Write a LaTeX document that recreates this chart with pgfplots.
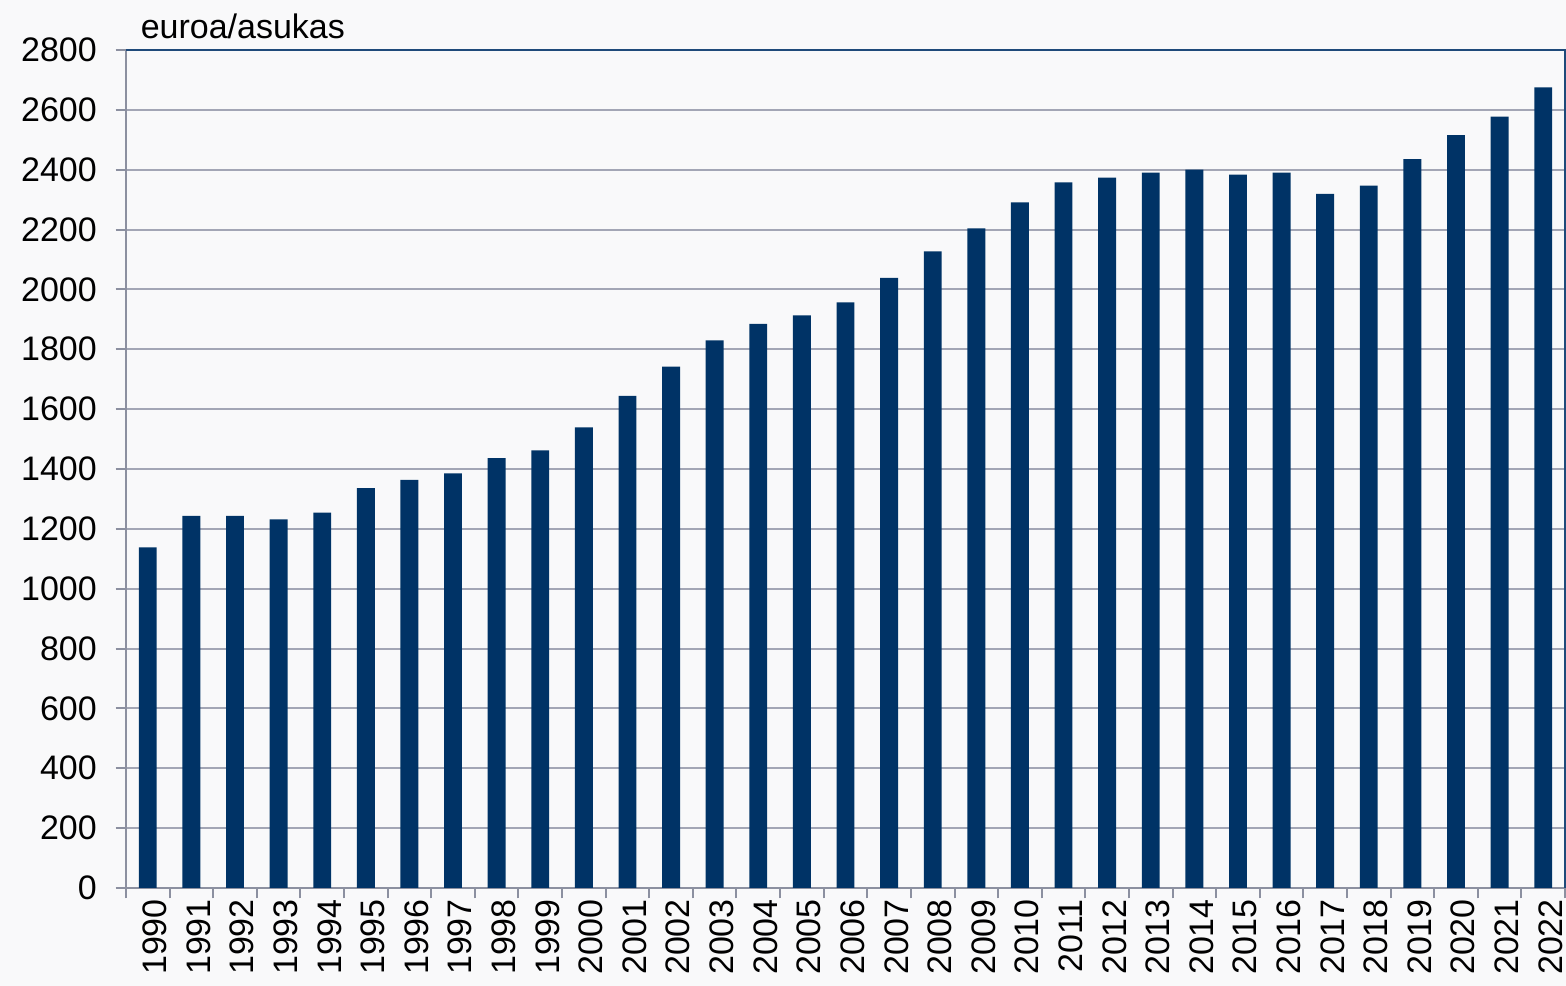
\documentclass[border=0pt]{standalone}
\usepackage{pgfplots}
\pgfplotsset{compat=1.18}
\usepackage{fontspec}
\setmainfont{Liberation Sans}
\definecolor{bg}{HTML}{F9F9FA}
\definecolor{barc}{HTML}{003366}
\definecolor{gridc}{HTML}{A3A6B5}
\definecolor{axc}{HTML}{8C90A0}
\definecolor{frame}{HTML}{1F4A7A}
\begin{document}
\begin{tikzpicture}
\fill[bg] (-31.5pt,-24.5pt) rectangle (360pt,222pt);
\useasboundingbox (-31.5pt,-24.5pt) rectangle (360pt,222pt);
\begin{axis}[
  at={(0,0)}, anchor=south west,
  width=359.75pt, height=209.5pt, scale only axis,
  clip=false,
  xmin=-0.5, xmax=32.5, ymin=0, ymax=2800,
  ytick distance=200,
  xtick={0,...,32},
  xticklabels={1990,1991,1992,1993,1994,1995,1996,1997,1998,1999,2000,2001,2002,2003,2004,2005,2006,2007,2008,2009,2010,2011,2012,2013,2014,2015,2016,2017,2018,2019,2020,2021,2022},
  minor xtick={-0.5,0.5,...,32.5},
  axis x line*=bottom, axis y line*=left,
  axis line style={draw=axc, line width=0.5pt},
  tick align=outside,
  major tick length=2.6pt, minor tick length=2.6pt,
  x tick style={draw=none},
  minor x tick style={draw=axc, line width=0.5pt},
  y tick style={draw=axc, line width=0.5pt},
  ymajorgrids, grid style={draw=gridc, line width=0.5pt},
  every tick label/.append style={font=\fontsize{8.5}{10}\selectfont, text=black},
  xticklabel style={rotate=90, anchor=east, inner sep=0pt, yshift=-1.8pt},
  yticklabel style={inner sep=0pt, xshift=-4.5pt},
  /pgf/number format/.cd, 1000 sep={}, assume math mode=true,
]
\addplot[ybar, bar width=0.41, fill=barc, draw=none] coordinates {
(0,1138) (1,1243) (2,1243) (3,1232) (4,1254) (5,1336) (6,1364) (7,1385)
(8,1436) (9,1462) (10,1539) (11,1644) (12,1742) (13,1830) (14,1885) (15,1913)
(16,1957) (17,2039) (18,2127) (19,2204) (20,2291) (21,2358) (22,2374) (23,2390)
(24,2400) (25,2384) (26,2390) (27,2319) (28,2347) (29,2435) (30,2516) (31,2577) (32,2675)
};
\draw[frame, line width=0.45pt] (rel axis cs:0,1) -- (rel axis cs:1,1) -- (rel axis cs:1,0);
\node[anchor=base west, inner sep=0pt, font=\fontsize{8.5}{10}\selectfont] at ([xshift=3.5pt,yshift=3pt]rel axis cs:0,1) {euroa/asukas};
\end{axis}
\end{tikzpicture}
\end{document}
